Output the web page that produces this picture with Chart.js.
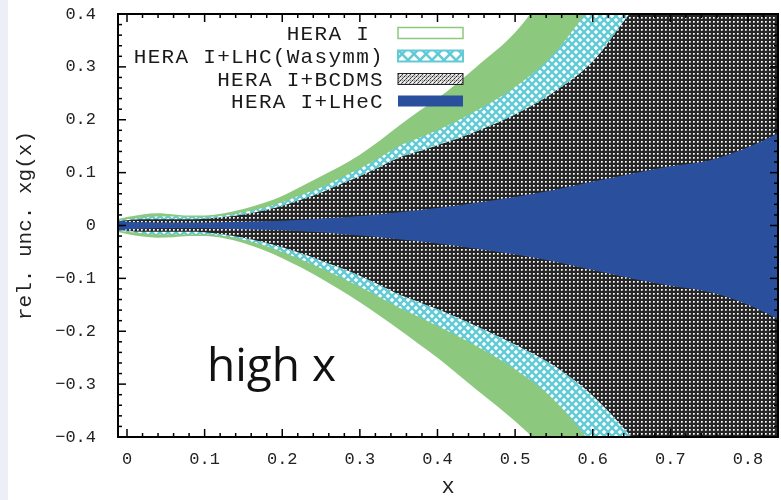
<!DOCTYPE html>
<html><head><meta charset="utf-8">
<script src="https://cdn.jsdelivr.net/npm/chart.js@4/dist/chart.umd.min.js"></script>
<style>
html,body{margin:0;padding:0;}
body{width:781px;height:500px;overflow:hidden;background:linear-gradient(to right,#eceef8 0,#eceef8 8px,#fff 8px);}
#wrap{position:relative;width:781px;height:500px;}
</style></head><body>
<div id="wrap"><canvas id="c" width="781" height="500"></canvas></div>
<script>
// ---- data ----
const xValues   = [-0.012, 0, 0.02, 0.04, 0.06, 0.08, 0.1, 0.125, 0.15, 0.175, 0.2, 0.225, 0.25, 0.275, 0.3, 0.325, 0.35, 0.375, 0.4, 0.45, 0.5, 0.55, 0.6, 0.65, 0.7, 0.75, 0.8, 0.84];
const heraUpper = [0.012, 0.016, 0.021, 0.023, 0.021, 0.019, 0.019, 0.023, 0.031, 0.042, 0.056, 0.074, 0.093, 0.112, 0.134, 0.16, 0.188, 0.215, 0.24, 0.3, 0.365, 0.46, 0.55, 0.63, 0.7, 0.77, 0.84, 0.9];
const heraLower = [-0.012, -0.016, -0.021, -0.023, -0.022, -0.02, -0.02, -0.024, -0.033, -0.046, -0.062, -0.08, -0.1, -0.122, -0.145, -0.17, -0.196, -0.223, -0.25, -0.31, -0.37, -0.44, -0.52, -0.6, -0.68, -0.76, -0.84, -0.9];
const lhcUpper  = [0.01, 0.012, 0.015, 0.017, 0.017, 0.016, 0.016, 0.019, 0.025, 0.033, 0.044, 0.058, 0.072, 0.09, 0.108, 0.128, 0.15, 0.165, 0.18, 0.217, 0.262, 0.325, 0.42, 0.52, 0.6, 0.68, 0.76, 0.82];
const lhcLower  = [-0.01, -0.012, -0.015, -0.017, -0.017, -0.017, -0.017, -0.02, -0.027, -0.037, -0.05, -0.065, -0.081, -0.098, -0.116, -0.135, -0.155, -0.172, -0.19, -0.228, -0.272, -0.33, -0.415, -0.51, -0.6, -0.68, -0.76, -0.82];
const bcdmsUpper = [0.008, 0.01, 0.012, 0.012, 0.012, 0.012, 0.013, 0.016, 0.021, 0.028, 0.037, 0.049, 0.062, 0.078, 0.093, 0.11, 0.128, 0.14, 0.152, 0.178, 0.21, 0.252, 0.31, 0.405, 0.49, 0.57, 0.65, 0.72];
const bcdmsLower = [-0.008, -0.01, -0.012, -0.012, -0.012, -0.012, -0.013, -0.017, -0.023, -0.031, -0.041, -0.053, -0.066, -0.08, -0.095, -0.112, -0.13, -0.144, -0.158, -0.19, -0.225, -0.265, -0.322, -0.4, -0.49, -0.57, -0.65, -0.72];
const lhecUpper = [0.01, 0.007, 0.006, 0.005, 0.005, 0.005, 0.005, 0.006, 0.007, 0.008, 0.009, 0.011, 0.013, 0.015, 0.018, 0.021, 0.025, 0.029, 0.033, 0.043, 0.054, 0.067, 0.083, 0.098, 0.112, 0.123, 0.148, 0.175];
const lhecLower = [-0.01, -0.007, -0.006, -0.005, -0.005, -0.005, -0.005, -0.006, -0.007, -0.008, -0.009, -0.011, -0.013, -0.016, -0.019, -0.022, -0.026, -0.03, -0.034, -0.044, -0.055, -0.068, -0.084, -0.1, -0.114, -0.126, -0.15, -0.178];
const seriesNames = ["HERA I", "HERA I+LHC(Wasymm)", "HERA I+BCDMS", "HERA I+LHeC"];
const xTicks = [0, 0.1, 0.2, 0.3, 0.4, 0.5, 0.6, 0.7, 0.8];
const yTicks = [-0.4, -0.3, -0.2, -0.1, 0, 0.1, 0.2, 0.3, 0.4];
const xTitle = "x";
const yTitle = "rel. unc. xg(x)";
const annotationText = "high x";

// ---- styling ----
const canvas = document.getElementById('c');
const ctx0 = canvas.getContext('2d');
function makePattern(w, h, draw) {
  const t = document.createElement('canvas'); t.width = w; t.height = h;
  const g = t.getContext('2d'); draw(g, w, h);
  return ctx0.createPattern(t, 'repeat');
}
const GREEN = '#8cc97e', CYAN = '#62cbd5', BLUE = '#2a4f9d';
const cyanPat = makePattern(8, 8, (g, w, h) => {
  g.fillStyle = '#fff'; g.fillRect(0, 0, w, h);
  g.strokeStyle = CYAN; g.lineWidth = 2.4;
  for (const o of [-8, 0, 8]) {
    g.beginPath(); g.moveTo(o, 0); g.lineTo(o + 8, 8); g.stroke();
    g.beginPath(); g.moveTo(o + 8, 0); g.lineTo(o, 8); g.stroke();
  }
});
const legendCyanPat = makePattern(12, 12, (g, w, h) => {
  g.fillStyle = '#fff'; g.fillRect(0, 0, w, h);
  g.strokeStyle = CYAN; g.lineWidth = 2.6;
  for (const o of [-12, 0, 12]) {
    g.beginPath(); g.moveTo(o, 0); g.lineTo(o + 12, 12); g.stroke();
    g.beginPath(); g.moveTo(o + 12, 0); g.lineTo(o, 12); g.stroke();
  }
});
const blackPat = makePattern(4, 4, (g) => {
  g.fillStyle = '#262626'; g.fillRect(0, 0, 4, 4);
  const px = (x, y, c) => { g.fillStyle = c; g.fillRect(x, y, 1, 1); };
  px(1, 1, '#ffffff'); px(2, 1, '#cccccc'); px(1, 2, '#cccccc'); px(2, 2, '#888888');
});
const legendBlackPat = makePattern(4, 4, (g) => {
  g.fillStyle = '#d8d8d8'; g.fillRect(0, 0, 4, 4);
  const px = (x, y, c) => { g.fillStyle = c; g.fillRect(x, y, 1, 1); };
  px(0, 0, '#222'); px(2, 2, '#333'); px(1, 3, '#666'); px(3, 1, '#666'); px(2, 0, '#999'); px(0, 2, '#fff');
});

const pts = arr => xValues.map((x, i) => ({ x: x, y: arr[i] }));
const band = (arr, fill, bg) => ({
  data: pts(arr), fill: fill, backgroundColor: bg, borderWidth: 0, pointRadius: 0,
  cubicInterpolationMode: 'monotone'
});

const MONO = '"Liberation Mono", "DejaVu Sans Mono", monospace';

const framePlugin = {
  id: 'frame',
  afterDatasetsDraw(chart) {
    const { ctx, chartArea: a, scales } = chart;
    ctx.save();
    ctx.strokeStyle = '#000';
    ctx.lineWidth = 1.5;
    const tick = (x1, y1, x2, y2) => { ctx.beginPath(); ctx.moveTo(x1, y1); ctx.lineTo(x2, y2); ctx.stroke(); };
    for (let i = 0; i <= 42; i++) {
      const v = i * 0.02;
      const major = i % 5 === 0;
      const L = major ? 8 : 4;
      const px = scales.x.getPixelForValue(v);
      if (px < a.left || px > a.right) continue;
      tick(px, a.bottom, px, a.bottom - L);
      tick(px, a.top, px, a.top + L);
    }
    for (let i = -20; i <= 20; i++) {
      const v = i * 0.02;
      const major = i % 5 === 0;
      const L = major ? 8 : 4;
      const py = scales.y.getPixelForValue(v);
      tick(a.left, py, a.left + L, py);
      tick(a.right, py, a.right - L, py);
    }
    ctx.lineWidth = 2;
    ctx.strokeRect(a.left, a.top, a.right - a.left, a.bottom - a.top);
    ctx.restore();
  },
  afterDraw(chart) {
    const { ctx } = chart;
    ctx.save();
    // legend
    ctx.font = '21px ' + MONO;
    ctx.letterSpacing = '1.3px';
    ctx.fillStyle = '#1a1a1a';
    ctx.textAlign = 'right';
    ctx.textBaseline = 'middle';
    const rows = [33, 56, 79, 101];
    const labels = [seriesNames[0] + ' ', seriesNames[1], seriesNames[2], seriesNames[3]];
    labels.forEach((t, i) => ctx.fillText(t, 384, rows[i] + 1));
    const bx = 398, bw = 65, bh = 11;
    ctx.fillStyle = '#fff'; ctx.fillRect(bx, rows[0] - bh / 2, bw, bh);
    ctx.strokeStyle = GREEN; ctx.lineWidth = 1.5; ctx.strokeRect(bx, rows[0] - bh / 2, bw, bh);
    ctx.fillStyle = legendCyanPat; ctx.fillRect(bx, rows[1] - bh / 2, bw, bh);
    ctx.strokeStyle = CYAN; ctx.lineWidth = 2; ctx.strokeRect(bx, rows[1] - bh / 2, bw, bh);
    ctx.fillStyle = legendBlackPat; ctx.fillRect(bx, rows[2] - bh / 2, bw, bh);
    ctx.strokeStyle = '#222'; ctx.lineWidth = 1; ctx.strokeRect(bx, rows[2] - bh / 2, bw, bh);
    ctx.fillStyle = BLUE; ctx.fillRect(bx, rows[3] - bh / 2, bw, bh);
    // annotation
    ctx.letterSpacing = '0px';
    ctx.textAlign = 'left';
    ctx.textBaseline = 'alphabetic';
    ctx.font = '46px "Open Sans", "Noto Sans", sans-serif';
    ctx.fillStyle = '#111';
    ctx.fillText(annotationText, 207, 381);
    ctx.restore();
  }
};

new Chart(canvas, {
  type: 'line',
  data: {
    datasets: [
      band(lhecUpper, '+1', BLUE), band(lhecLower, false, BLUE),
      band(bcdmsUpper, '+1', blackPat), band(bcdmsLower, false, blackPat),
      band(lhcUpper, '+1', cyanPat), band(lhcLower, false, cyanPat),
      band(heraUpper, '+1', GREEN), band(heraLower, false, GREEN)
    ]
  },
  options: {
    responsive: false,
    devicePixelRatio: 1,
    animation: false,
    layout: { autoPadding: false, padding: { top: 14, right: 3, left: 0, bottom: 0 } },
    plugins: { legend: { display: false }, tooltip: { enabled: false } },
    scales: {
      x: {
        type: 'linear', min: -0.0116, max: 0.8387,
        grid: { display: false, drawTicks: false }, border: { display: false },
        ticks: {
          includeBounds: false, padding: 12, color: '#222',
          font: { family: MONO, size: 17 },
          callback: v => v === 0 ? '0' : v.toFixed(1)
        },
        afterBuildTicks: s => { s.ticks = xTicks.map(v => ({ value: v })); },
        afterFit: s => { s.height = 63; s.paddingLeft = 0; s.paddingRight = 0; },
        title: { display: true, text: xTitle, color: '#222', font: { family: MONO, size: 22 }, padding: { top: 0, bottom: 0 } }
      },
      y: {
        type: 'linear', min: -0.4, max: 0.4,
        grid: { display: false, drawTicks: false }, border: { display: false },
        ticks: {
          padding: 22, color: '#222',
          font: { family: MONO, size: 17 },
          callback: v => Math.abs(v) < 1e-9 ? '0' : (v < 0 ? '\u2212' : '') + Math.abs(v).toFixed(1)
        },
        afterBuildTicks: s => { s.ticks = yTicks.map(v => ({ value: v })); },
        afterFit: s => { s.width = 118; s.paddingTop = 0; s.paddingBottom = 0; },
        title: { display: true, text: yTitle, color: '#222', font: { family: MONO, size: 21 }, padding: { top: 13, bottom: 0 } }
      }
    }
  },
  plugins: [framePlugin]
});
</script>
</body></html>
